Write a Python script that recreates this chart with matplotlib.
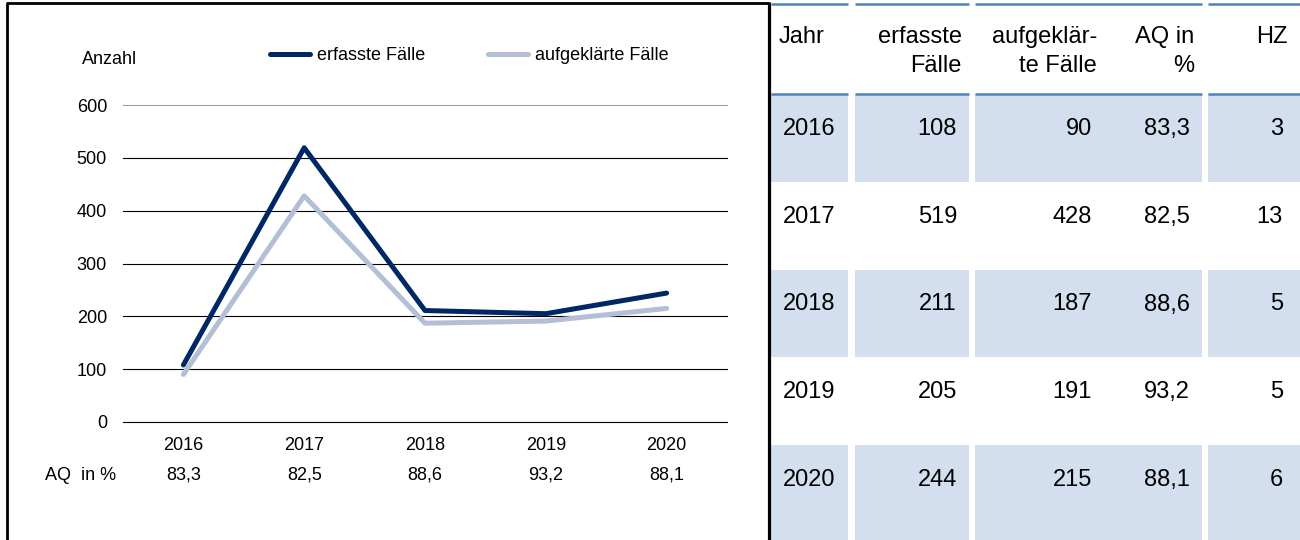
import matplotlib.pyplot as plt
from matplotlib.patches import Rectangle

plt.rcParams['font.family'] = ['Liberation Sans', 'DejaVu Sans']

# data
jahre = ['2016', '2017', '2018', '2019', '2020']
erfasst = [108, 519, 211, 205, 244]
aufgeklaert = [90, 428, 187, 191, 215]
aq = [83.3, 82.5, 88.6, 93.2, 88.1]
hz = [3, 13, 5, 5, 6]
yticks = [0, 100, 200, 300, 400, 500, 600]
kopf = [['Jahr'], ['erfasste', 'Fälle'], ['aufgeklär-', 'te Fälle'], ['AQ in', '%'], ['HZ']]

W, H = 1300, 540
navy = '#002864'
hell = '#b3bfd4'
band = '#d3dfee'
blau = '#4f81bd'


def px(x0, y0, x1, y1):
    return [x0 / W, 1 - y1 / H, (x1 - x0) / W, (y1 - y0) / H]


def komma(v):
    return f'{v:.1f}'.replace('.', ',')


fig = plt.figure(figsize=(W / 100, H / 100), dpi=100)

# overlay in pixel coordinates for frame, labels and table
ov = fig.add_axes([0, 0, 1, 1], zorder=0)
ov.set_xlim(0, W)
ov.set_ylim(H, 0)
ov.axis('off')

# --- line chart ---
ax = fig.add_axes(px(123, 105, 727, 422), zorder=2)
ax.patch.set_alpha(0)
x = list(range(len(jahre)))
for v in yticks:
    ax.axhline(v, color='#a0a0a0' if v == 600 else 'black', lw=0.8, clip_on=False, zorder=1)
ax.plot(x, aufgeklaert, color=hell, lw=3.6, solid_capstyle='round', label='aufgeklärte Fälle', zorder=3)
ax.plot(x, erfasst, color=navy, lw=3.6, solid_capstyle='round', label='erfasste Fälle', zorder=4)
ax.set_xlim(-0.5, len(jahre) - 0.5)
ax.set_ylim(0, 600)
ax.set_yticks(yticks)
ax.set_xticks([])
ax.tick_params(axis='y', length=0, pad=11.5, labelsize=13)
for s in ax.spines.values():
    s.set_visible(False)

tr = ax.get_xaxis_transform()
for i, j in enumerate(jahre):
    ax.text(i, -23 / 317, j, transform=tr, ha='center', va='center', fontsize=13)
    ax.text(i, -53 / 317, komma(aq[i]), transform=tr, ha='center', va='center', fontsize=13)

ov.text(45, 475, 'AQ  in %', ha='left', va='center', fontsize=13)
ov.text(82, 60, 'Anzahl', ha='left', va='center', fontsize=13)

h, l = ax.get_legend_handles_labels()
fig.legend(h[::-1], l[::-1], ncol=2, loc='center left', bbox_to_anchor=(270 / W, 1 - 56 / H),
           frameon=False, fontsize=13, borderpad=0, handlelength=2.2, handletextpad=0.4,
           columnspacing=3.5, borderaxespad=0)

# chart frame
ov.plot([7, 7], [3, H], color='black', lw=2, solid_capstyle='butt')
ov.plot([6, 769], [3, 3], color='black', lw=2, solid_capstyle='butt')

# --- table ---
spalten = [(771, 848), (855, 969), (975, 1202), (1208, 1300)]
kopf_h = 94
zeile_h = 87.75
for r in range(len(jahre)):
    y0 = kopf_h + r * zeile_h
    y1 = H if r == len(jahre) - 1 else y0 + zeile_h
    if r % 2 == 0:
        for a, b in spalten:
            ov.add_patch(Rectangle((a, y0), b - a, y1 - y0, color=band, lw=0, zorder=1))
    yt = y0 + 35
    ov.text(809, yt, jahre[r], ha='center', va='center', fontsize=17, zorder=3)
    ov.text(957, yt, str(erfasst[r]), ha='right', va='center', fontsize=17, zorder=3)
    ov.text(1092, yt, str(aufgeklaert[r]), ha='right', va='center', fontsize=17, zorder=3)
    ov.text(1190, yt, komma(aq[r]), ha='right', va='center', fontsize=17, zorder=3)
    ov.text(1283, yt, str(hz[r]), ha='right', va='center', fontsize=17, zorder=3)

for a, b in spalten:
    ov.plot([a, b], [3.5, 3.5], color=blau, lw=1.8, solid_capstyle='butt', zorder=2)
    ov.plot([a, b], [kopf_h, kopf_h], color=blau, lw=1.8, solid_capstyle='butt', zorder=2)

kopf_x = [(779, 'left'), (962, 'right'), (1097, 'right'), (1194, 'right'), (1288, 'right')]
for (kx, ha), zeilen in zip(kopf_x, kopf):
    for k, t in enumerate(zeilen):
        ov.text(kx, 37 + 29 * k, t, ha=ha, va='center', fontsize=17, zorder=3)

ov.plot([769, 769], [2, H], color='black', lw=2.3, solid_capstyle='butt', zorder=4)

fig.savefig('out.png', dpi=100)
